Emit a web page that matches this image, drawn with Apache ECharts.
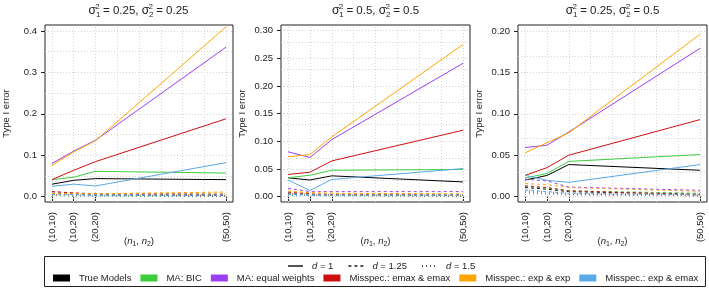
<!DOCTYPE html>
<html>
<head>
<meta charset="utf-8">
<script src="https://cdn.jsdelivr.net/npm/echarts@6/dist/echarts.min.js"></script>
<style>
  html, body { margin: 0; padding: 0; background: #fff; }
  #chart { width: 709px; height: 289px; }
</style>
</head>
<body>
<div id="chart"></div>
<script>
// x positions are total sample size n1 + n2
const totalN = [20, 30, 40, 100]
const sizeLabels = ["(10,10)", "(10,20)", "(20,20)", "(50,50)"]
const gridN = [20, 30, 40, 50, 60, 70, 80, 90, 100]

const models = ["True Models", "MA: BIC", "MA: equal weights", "Misspec.: emax & emax", "Misspec.: exp & exp", "Misspec.: exp & emax"]
const modelColors = ["#000000", "#3ccc3c", "#9b3ff2", "#cc1010", "#ffa500", "#5aaae8"]
const dLabels = ["d = 1", "d = 1.25", "d = 1.5"]
const dDash = ["solid", [3, 3], [1, 3]]

const sigma1 = ["0.25", "0.5", "0.25"]
const sigma2 = ["0.25", "0.5", "0.5"]

const yTicks1 = [0, 0.1, 0.2, 0.3, 0.4]
const yTicks2 = [0, 0.05, 0.1, 0.15, 0.2, 0.25, 0.3]
const yTicks3 = [0, 0.05, 0.1, 0.15, 0.2]
const yGrid1 = [0, 0.05, 0.1, 0.15, 0.2, 0.25, 0.3, 0.35, 0.4]
const yGrid2 = [0, 0.025, 0.05, 0.075, 0.1, 0.125, 0.15, 0.175, 0.2, 0.225, 0.25, 0.275, 0.3]
const yGrid3 = [0, 0.025, 0.05, 0.075, 0.1, 0.125, 0.15, 0.175, 0.2]

// each model: rows for d = 1, 1.25, 1.5
// panel 1: sigma1^2 = 0.25, sigma2^2 = 0.25
const p1True = [[0.030, 0.0394, 0.0435, 0.041], [0.006, 0.005, 0.004, 0.003], [0.003, 0.002, 0.002, 0.001]]
const p1Bic = [[0.041, 0.047, 0.061, 0.057], [0.007, 0.006, 0.005, 0.004], [0.003, 0.003, 0.002, 0.001]]
const p1Equal = [[0.080, 0.110, 0.136, 0.361], [0.012, 0.008, 0.006, 0.005], [0.005, 0.004, 0.003, 0.002]]
const p1EmaxEmax = [[0.041, 0.0636, 0.0845, 0.188], [0.012, 0.009, 0.007, 0.006], [0.005, 0.004, 0.003, 0.002]]
const p1ExpExp = [[0.0757, 0.108, 0.135, 0.410], [0.008, 0.007, 0.007, 0.011], [0.004, 0.004, 0.003, 0.006]]
const p1ExpEmax = [[0.025, 0.030, 0.0257, 0.082], [0.005, 0.005, 0.004, 0.004], [0.002, 0.002, 0.002, 0.002]]

// panel 2: sigma1^2 = 0.5, sigma2^2 = 0.5
const p2True = [[0.034, 0.030, 0.0375, 0.0265], [0.005, 0.003, 0.003, 0.002], [0.003, 0.002, 0.002, 0.001]]
const p2Bic = [[0.034, 0.0386, 0.0476, 0.049], [0.006, 0.004, 0.003, 0.002], [0.003, 0.002, 0.002, 0.001]]
const p2Equal = [[0.081, 0.0707, 0.103, 0.241], [0.015, 0.009, 0.009, 0.009], [0.006, 0.004, 0.003, 0.003]]
const p2EmaxEmax = [[0.040, 0.044, 0.0645, 0.120], [0.008, 0.005, 0.004, 0.003], [0.004, 0.002, 0.002, 0.001]]
const p2ExpExp = [[0.072, 0.076, 0.108, 0.275], [0.010, 0.007, 0.006, 0.005], [0.004, 0.003, 0.002, 0.002]]
const p2ExpEmax = [[0.030, 0.011, 0.031, 0.0507], [0.004, 0.003, 0.003, 0.003], [0.002, 0.002, 0.001, 0.001]]

// panel 3: sigma1^2 = 0.25, sigma2^2 = 0.5
const p3True = [[0.0200, 0.0255, 0.0387, 0.0318], [0.011, 0.009, 0.006, 0.003], [0.005, 0.004, 0.003, 0.001]]
const p3Bic = [[0.0225, 0.0278, 0.0425, 0.0508], [0.012, 0.010, 0.007, 0.004], [0.005, 0.004, 0.003, 0.002]]
const p3Equal = [[0.0593, 0.062, 0.078, 0.179], [0.021, 0.019, 0.0115, 0.0076], [0.007, 0.006, 0.004, 0.002]]
const p3EmaxEmax = [[0.0255, 0.035, 0.050, 0.093], [0.013, 0.011, 0.007, 0.002], [0.006, 0.005, 0.003, 0.001]]
const p3ExpExp = [[0.0528, 0.065, 0.077, 0.196], [0.0157, 0.0145, 0.011, 0.0064], [0.006, 0.005, 0.004, 0.003]]
const p3ExpEmax = [[0.0258, 0.0197, 0.0172, 0.0387], [0.008, 0.006, 0.004, 0.002], [0.003, 0.003, 0.002, 0.001]]

const FONT = "Liberation Sans, Arial, Helvetica, sans-serif"
const INK = "#222"

const panels = [
    { left: 44, yMin: -0.013, yMax: 0.4145, ticks: yTicks1, grid: yGrid1, dec: 1, data: [p1True, p1Bic, p1Equal, p1EmaxEmax, p1ExpExp, p1ExpEmax] },
    { left: 281, yMin: -0.0098, yMax: 0.3103, ticks: yTicks2, grid: yGrid2, dec: 2, data: [p2True, p2Bic, p2Equal, p2EmaxEmax, p2ExpExp, p2ExpEmax] },
    { left: 518, yMin: -0.0065, yMax: 0.2072, ticks: yTicks3, grid: yGrid3, dec: 2, data: [p3True, p3Bic, p3Equal, p3EmaxEmax, p3ExpExp, p3ExpEmax] },
]
const PW = 189

const series = []
panels.forEach((p, i) => {
    // dotted background grid
    series.push({
        type: "line",
        xAxisIndex: i,
        yAxisIndex: i,
        data: [],
        silent: true,
        markLine: {
            silent: true,
            z: 1,
            symbol: ["none", "none"],
            label: { show: false },
            lineStyle: { color: "#d4d4d4", type: [1, 2], width: 1 },
            emphasis: { disabled: true },
            animation: false,
            data: [...gridN.map((v) => ({ xAxis: v })), ...p.grid.map((v) => ({ yAxis: v }))],
        },
    })
    p.data.forEach((rows, m) => {
        rows.forEach((vals, k) => {
            series.push({
                type: "line",
                name: models[m],
                xAxisIndex: i,
                yAxisIndex: i,
                z: 3,
                symbol: "none",
                color: modelColors[m],
                itemStyle: { color: modelColors[m] },
                lineStyle: { color: modelColors[m], width: 1, type: dDash[k] },
                emphasis: { disabled: true },
                data: totalN.map((n, j) => [n, vals[j]]),
            })
        })
    })
})

// legend-only series for line types
dLabels.forEach((name, k) => {
    series.push({
        type: "line",
        name: name,
        xAxisIndex: 0,
        yAxisIndex: 0,
        data: [],
        symbol: "none",
        color: "#555",
        lineStyle: { color: "#555", width: 1, type: dDash[k] },
    })
})

const richTitle = {
    g: { fontSize: 12, fontFamily: FONT, fontWeight: "normal", color: INK, lineHeight: 16 },
    b: { fontSize: 8, fontFamily: FONT, fontWeight: "normal", color: INK, verticalAlign: "bottom", lineHeight: 16 },
    p: { fontSize: 8, fontFamily: FONT, fontWeight: "normal", color: INK, verticalAlign: "top", lineHeight: 16, padding: [0, 0, 0, -5] },
    n: { fontSize: 11.5, fontFamily: FONT, fontWeight: "normal", color: INK, lineHeight: 16 },
}

const option = {
    animation: false,
    backgroundColor: "#fff",
    textStyle: { fontFamily: FONT },
    title: panels.map((p, i) => ({
        text: `{g|σ}{b|1}{p|2}{n| = ${sigma1[i]}, }{g|σ}{b|2}{p|2}{n| = ${sigma2[i]}}`,
        left: p.left + PW / 2,
        top: 3,
        textAlign: "center",
        padding: 0,
        textStyle: { fontWeight: "normal", fontSize: 11.5, rich: richTitle },
    })),
    legend: [
        {
            data: dLabels,
            left: 287,
            top: 261,
            padding: 0,
            itemWidth: 15,
            itemHeight: 8,
            itemGap: 14,
            selectedMode: false,
            itemStyle: { opacity: 0 },
            formatter: (name) => `{i|d}{t|${name.slice(1)}}`,
            textStyle: {
                fontSize: 9.5,
                color: INK,
                padding: [0, 0, 0, 4],
                rich: {
                    i: { fontSize: 9.5, fontStyle: "italic", fontFamily: FONT, color: INK },
                    t: { fontSize: 9.5, fontFamily: FONT, color: INK },
                },
            },
        },
        {
            data: models,
            left: 53,
            top: 273,
            width: 660,
            padding: 0,
            icon: "rect",
            itemWidth: 17,
            itemHeight: 7,
            itemGap: 9,
            selectedMode: false,
            textStyle: { fontSize: 9.5, color: INK, fontFamily: FONT, padding: [0, 0, 0, 4] },
        },
    ],
    graphic: [
        {
            type: "rect",
            silent: true,
            shape: { x: 44.5, y: 256.5, width: 661, height: 30 },
            style: { fill: "none", stroke: INK, lineWidth: 1 },
        },
    ],
    grid: panels.map((p) => ({
        left: p.left,
        top: 25,
        width: PW,
        height: 177,
        show: true,
        borderColor: INK,
        borderWidth: 1,
        backgroundColor: "transparent",
    })),
    xAxis: panels.map((p, i) => ({
        gridIndex: i,
        type: "value",
        min: 16.8,
        max: 103.2,
        axisLine: { show: false },
        splitLine: { show: false },
        axisTick: { show: true, customValues: totalN, length: 5, lineStyle: { color: INK } },
        axisLabel: {
            customValues: totalN,
            formatter: (v) => sizeLabels[totalN.indexOf(v)],
            rotate: 90,
            margin: 10,
            fontSize: 9.5,
            color: INK,
            fontFamily: FONT,
        },
        name: "{t|(}{i|n}{s|1}{t|, }{i|n}{s|2}{t|)}",
        nameLocation: "middle",
        nameGap: 33,
        nameMoveOverlap: false,
        nameTextStyle: {
            rich: {
                t: { fontSize: 9.5, fontFamily: FONT, color: INK, lineHeight: 13 },
                i: { fontSize: 9.5, fontFamily: FONT, color: INK, fontStyle: "italic", lineHeight: 13 },
                s: { fontSize: 7, fontFamily: FONT, color: INK, verticalAlign: "bottom", lineHeight: 13 },
            },
        },
    })),
    yAxis: panels.map((p, i) => ({
        gridIndex: i,
        type: "value",
        min: p.yMin,
        max: p.yMax,
        axisLine: { show: false },
        splitLine: { show: false },
        axisTick: { show: true, customValues: p.ticks, length: 4, lineStyle: { color: INK } },
        axisLabel: {
            customValues: p.ticks,
            formatter: (v) => v.toFixed(p.dec),
            margin: 8,
            fontSize: 9.5,
            color: INK,
            fontFamily: FONT,
        },
        name: "Type I error",
        nameLocation: "middle",
        nameGap: 34,
        nameMoveOverlap: false,
        nameTextStyle: { fontSize: 9.5, color: INK, fontFamily: FONT },
    })),
    series: series,
}

const chart = echarts.init(document.getElementById("chart"), null, { renderer: "canvas" })
chart.setOption(option)
</script>
</body>
</html>
